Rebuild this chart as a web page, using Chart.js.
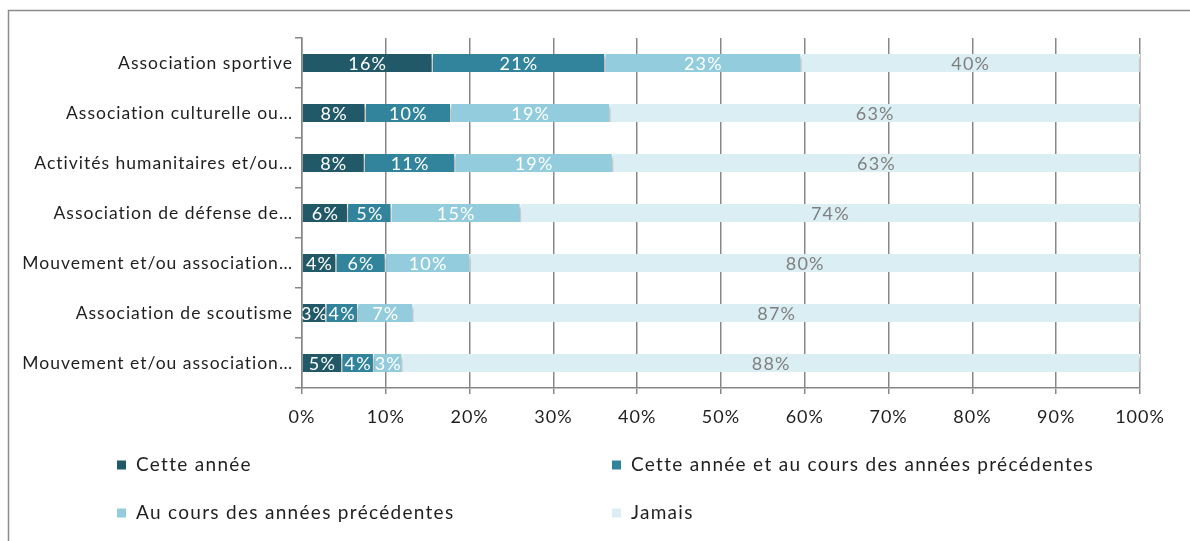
<!DOCTYPE html>
<html><head><meta charset="utf-8">
<script src="https://cdn.jsdelivr.net/npm/chart.js@4.4.0/dist/chart.umd.min.js"></script>
<style>html,body{margin:0;padding:0;background:#fff;overflow:hidden}</style>
</head><body>
<canvas id="c" width="1190" height="541"></canvas>
<script>
const categories = [
  "Association sportive",
  "Association culturelle ou…",
  "Activités humanitaires et/ou…",
  "Association de défense de…",
  "Mouvement et/ou association…",
  "Association de scoutisme",
  "Mouvement et/ou association…"
];
const seriesNames = ["Cette année", "Cette année et au cours des années précédentes", "Au cours des années précédentes", "Jamais"];
const seriesColors = ["#215968", "#31849b", "#93cddd", "#dbeef4"];
const labelColors = ["#ffffff", "#ffffff", "#ffffff", "#7f7f7f"];
const cetteAnnee   = [15.6, 7.6, 7.5, 5.5, 4.1, 2.9, 4.8];
const cetteEtAvant = [20.6, 10.2, 10.8, 5.2, 5.9, 3.8, 3.8];
const avant        = [23.4, 19.0, 18.8, 15.4, 10.1, 6.6, 3.4];
const jamais       = [40.4, 63.2, 62.9, 73.9, 79.9, 86.7, 88.0];
const xTickValues  = [0, 10, 20, 30, 40, 50, 60, 70, 80, 90, 100];

const FONT = "Lato, 'Open Sans', sans-serif";
const allSeries = [cetteAnnee, cetteEtAvant, avant, jamais];

const fxPlugin = {
  id: 'fx',
  beforeDraw(chart) {
    const ctx = chart.ctx;
    ctx.save();
    ctx.strokeStyle = '#8c8c8c';
    ctx.lineWidth = 1.5;
    ctx.strokeRect(8.5, 10.5, 1400, 800);
    ctx.restore();
    ctx.letterSpacing = '1px';
  },
  beforeDatasetsDraw(chart) {
    const ctx = chart.ctx;
    ctx.save();
    ctx.shadowColor = 'rgba(0,0,0,0.35)';
    ctx.shadowBlur = 4;
    ctx.shadowOffsetX = 1;
    ctx.shadowOffsetY = 3;
  },
  afterDatasetsDraw(chart) {
    const ctx = chart.ctx;
    ctx.restore();
    ctx.save();
    ctx.font = "18px " + FONT;
    ctx.letterSpacing = '1.2px';
    ctx.textAlign = 'center';
    ctx.textBaseline = 'middle';
    chart.data.datasets.forEach((ds, di) => {
      const meta = chart.getDatasetMeta(di);
      meta.data.forEach((el, i) => {
        const v = ds.data[i];
        const cx = (el.x + el.base) / 2;
        ctx.fillStyle = labelColors[di];
        ctx.fillText(Math.round(v) + '%', cx, el.y + 1);
      });
    });
    ctx.restore();
  },
  afterDraw(chart) {
    const ctx = chart.ctx;
    ctx.save();
    ctx.font = "19px " + FONT;
    ctx.letterSpacing = '1.3px';
    ctx.textBaseline = 'middle';
    ctx.textAlign = 'left';
    const cols = [117, 612], rows = [465, 513];
    seriesNames.forEach((name, i) => {
      const x = cols[i % 2], y = rows[Math.floor(i / 2)];
      ctx.fillStyle = seriesColors[i];
      ctx.fillRect(x, y - 4.5, 9, 9);
      ctx.fillStyle = '#1f1f1f';
      ctx.fillText(name, x + 19, y);
    });
    ctx.restore();
    ctx.letterSpacing = '0px';
  }
};

new Chart(document.getElementById('c'), {
  type: 'bar',
  data: {
    labels: categories,
    datasets: allSeries.map((d, i) => ({
      label: seriesNames[i],
      data: d,
      backgroundColor: seriesColors[i],
      borderColor: '#ffffff',
      borderWidth: {left: 0, right: 1.5, top: 0, bottom: 0},
      borderSkipped: false,
      barThickness: 18
    }))
  },
  options: {
    indexAxis: 'y',
    responsive: false,
    animation: false,
    layout: {padding: {left: 0, right: 50, top: 38, bottom: 113}},
    plugins: {legend: {display: false}, tooltip: {enabled: false}},
    scales: {
      x: {
        stacked: true, min: 0, max: 100,
        afterBuildTicks(s) { s.ticks = xTickValues.map(v => ({value: v})); },
        afterFit(s) { s.height = 40; },
        ticks: {callback: v => v + '%', color: '#1f1f1f', font: {family: FONT, size: 18}, padding: 12, maxRotation: 0},
        grid: {color: '#878787', lineWidth: 1.5, tickLength: 6},
        border: {color: '#878787', width: 1.5}
      },
      y: {
        stacked: true,
        afterFit(s) { s.width = 302; },
        ticks: {color: '#1f1f1f', font: {family: FONT, size: 17.5}, padding: 2},
        grid: {drawOnChartArea: false, color: '#878787', lineWidth: 1.5, tickLength: 7, offset: true},
        border: {color: '#878787', width: 1.5}
      }
    }
  },
  plugins: [fxPlugin]
});
</script>
</body></html>
